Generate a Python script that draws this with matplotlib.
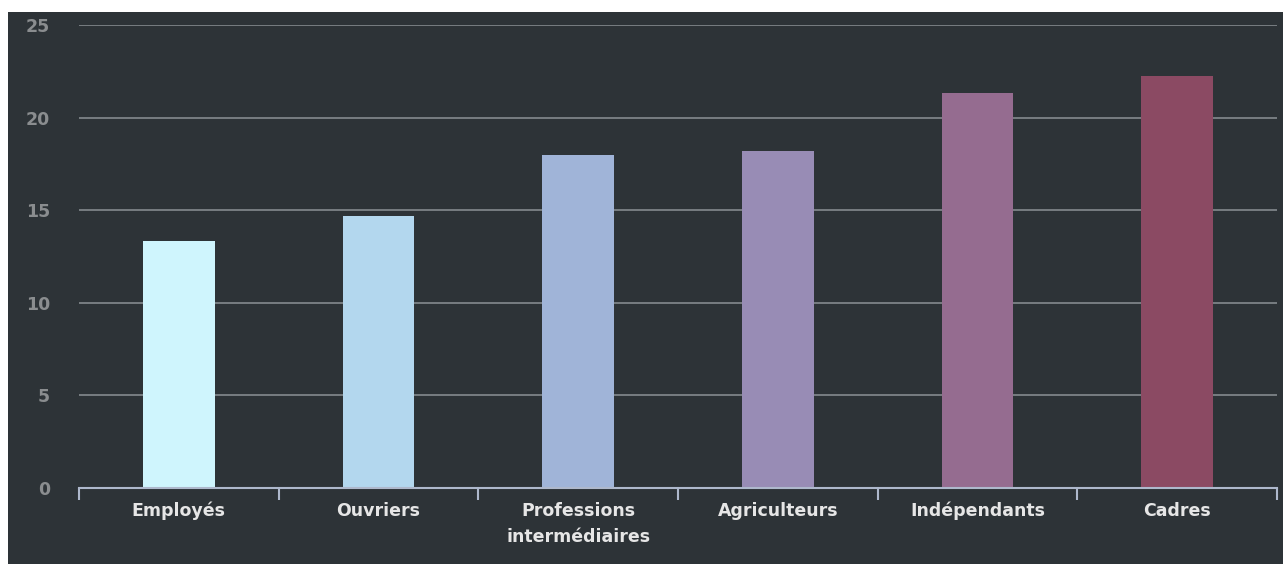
#!/usr/bin/env python3

import matplotlib
matplotlib.use('Agg')
import matplotlib.pyplot as plt
from matplotlib.patches import Rectangle
import numpy as np

categories = ['Employés', 'Ouvriers', 'Professions\nintermédiaires',
              'Agriculteurs', 'Indépendants', 'Cadres']
values = [13.35, 14.7, 18.0, 18.2, 21.35, 22.25]
colors = ['#cff5fd', '#b3d7ee', '#a0b4d8', '#988cb5', '#956c90', '#8b4a63']
yticks = [0, 5, 10, 15, 20, 25]

BG = '#2d3337'
W, H = 1283, 564

plt.rcParams['font.family'] = ['DejaVu Sans']

fig = plt.figure(figsize=(W / 100, H / 100), dpi=100, facecolor='white')
# dark panel behind the chart, leaving a thin white strip top and left
fig.patches.append(Rectangle((8 / W, 0), 1 - 8 / W, 1 - 12 / H,
                             transform=fig.transFigure, facecolor=BG,
                             edgecolor='none', zorder=-10))

ax = fig.add_axes([79 / W, 1 - 488 / H, (1277 - 79) / W, (488 - 25) / H])
ax.set_facecolor('none')
ax.set_zorder(5)

x = np.arange(len(categories))
ax.bar(x, values, width=0.36, color=colors, zorder=3)

ax.set_xlim(-0.5, len(categories) - 0.5)
ax.set_ylim(0, 25)

for y in yticks[1:]:
    ax.axhline(y, color='#7d8387', lw=1.3, zorder=1)

for s in ['top', 'right', 'left']:
    ax.spines[s].set_visible(False)
ax.spines['bottom'].set_color('#aeb8cc')
ax.spines['bottom'].set_linewidth(1.5)
ax.spines['bottom'].set_zorder(4)

# tick marks at category boundaries, labels at centres
ax.set_xticks(np.arange(-0.5, len(categories)), minor=False)
ax.set_xticklabels([])
ax.tick_params(axis='x', which='major', length=8.5, width=1.5, color='#aeb8cc',
               direction='out')
ax.set_xticks(x, minor=True)
ax.set_xticklabels(categories, minor=True, fontsize=12.5, fontweight='bold',
                   color='#e6e6e6', linespacing=1.6)
ax.tick_params(axis='x', which='minor', length=0, pad=10)

ax.set_yticks(yticks)
ax.set_yticklabels([str(v) for v in yticks], fontsize=12.5, fontweight='bold',
                   color='#8a8d8f')
ax.tick_params(axis='y', length=0, pad=21)

fig.savefig('out.png', dpi=100, facecolor='white')
